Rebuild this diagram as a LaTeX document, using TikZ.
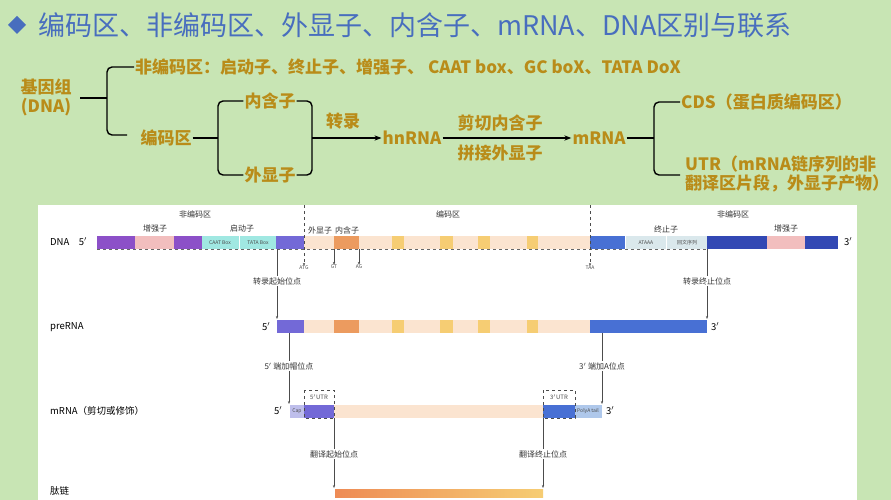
\documentclass[tikz,border=0pt]{standalone}
\usepackage{fontspec}
\setmainfont{Noto Sans CJK SC}
\usetikzlibrary{arrows.meta, positioning}
\definecolor{bggreen}{RGB}{200,229,180}
\definecolor{ttlblue}{RGB}{72,110,190}
\definecolor{gold}{RGB}{185,140,25}
\definecolor{cpurple}{RGB}{140,80,200}
\definecolor{cpink}{RGB}{242,190,190}
\definecolor{ccyan}{RGB}{160,232,226}
\definecolor{cviolet}{RGB}{115,105,215}
\definecolor{cpeach}{RGB}{251,228,208}
\definecolor{corange}{RGB}{236,155,95}
\definecolor{cyellow}{RGB}{246,205,115}
\definecolor{cblue}{RGB}{72,112,212}
\definecolor{cgrey}{RGB}{218,232,236}
\definecolor{cdark}{RGB}{50,72,180}
\definecolor{clav}{RGB}{190,190,235}
\definecolor{clblue}{RGB}{175,200,235}
\tikzset{
  gtext/.style={text=gold, font=\bfseries\fontsize{17}{19}\selectfont, inner sep=1pt},
  brc/.style={line width=1.4pt, rounded corners=5pt},
  garrow/.style={line width=1.4pt, -{Stealth[length=7pt]}},
  lbl/.style={font=\fontsize{8}{9}\selectfont, text=black!80, inner sep=1pt},
  rowlbl/.style={font=\fontsize{9.5}{11}\selectfont, anchor=west, inner sep=0pt},
  tiny/.style={font=\fontsize{5}{6}\selectfont, text=black!70, inner sep=0pt},
  pin/.style={black!70, line width=0.5pt, -{Stealth[length=3pt]}},
  seg/.style={draw=none}
}
\newcommand\codingpart[2]{%
  \foreach \xa/\xb/\cc in {304/334/cpeach,334/359/corange,359/392/cpeach,392/404/cyellow,
    404/440/cpeach,440/453/cyellow,453/478/cpeach,478/490/cyellow,490/527/cpeach,
    527/538/cyellow,538/590/cpeach}
    \fill[\cc] (\xa,#1) rectangle (\xb,#2);}
\begin{document}
\begin{tikzpicture}[x=1pt,y=-1pt]
\useasboundingbox (0,0) rectangle (891,500);
\fill[bggreen] (0,0) rectangle (891,500);
\fill[white] (38,205) rectangle (857,500);

% title
\fill[ttlblue] (17,16) -- (26,25) -- (17,34) -- (8,25) -- cycle;
\node[anchor=west, text=ttlblue, font=\fontsize{27}{30}\selectfont, inner sep=0pt] (title) at (38,25)
  {编码区、非编码区、外显子、内含子、mRNA、DNA区别与联系};

% overview
\node[gtext, align=center] (genome) at (46,97) {基因组\\(DNA)};
\node[gtext, anchor=west] (noncode) at (134,67) {非编码区：启动子、终止子、增强子、 CAAT box、GC boX、TATA DoX};
\node[gtext] (code) at (166,138) {编码区};
\node[gtext] (intron) at (270,101) {内含子};
\node[gtext] (exon) at (270,175) {外显子};
\node[gtext] (trans) at (343,121) {转录};
\node[gtext] (hn) at (412,138) {hnRNA};
\node[gtext] (cut) at (500,123) {剪切内含子};
\node[gtext] (join) at (500,153) {拼接外显子};
\node[gtext] (mr) at (599,138) {mRNA};
\node[gtext, anchor=west] (cds) at (680,102) {CDS（蛋白质编码区）};
\node[gtext, anchor=west, align=left] (utr) at (684,174) {UTR（mRNA链序列的非\\翻译区片段，外显子产物）};
\coordinate (gend) at (80,98);

\draw[brc] (gend) -- (107,98);
\draw[brc] (noncode.west) -| (107,98) |- (127,135);
\draw[brc] (code.east) -- (218,138);
\draw[brc] (intron.west) -| (218,138) |- (exon.west);
\draw[brc] (intron.east) -| (312,138) |- (exon.east);
\draw[garrow] (312,138) -- (hn.west);
\draw[garrow] (hn.east) -- (mr.west);
\draw[brc] (mr.east) -- (654,138);
\draw[brc] (cds.west) -| (654,138) |- (680,175);

% lower panel: region labels
\node[lbl] (nc1) at (195,214) {非编码区};
\node[lbl] (cr) at (448,214) {编码区};
\node[lbl] (nc2) at (733,214) {非编码区};

% DNA row
\node[rowlbl] (dnal) at (50,242) {DNA\quad 5$'$};
\node[rowlbl] (dnar) at (844,242) {3$'$};
\foreach \xa/\xb/\cc in {97/135/cpurple,135/174/cpink,174/202/cpurple,202/239/ccyan,
  240/276/ccyan,276/304/cviolet,590/625/cblue,626/666/cgrey,667/707/cgrey,
  707/767/cdark,767/805/cpink,805/838/cdark}
  \fill[\cc] (\xa,236) rectangle (\xb,249);
\codingpart{236}{249}
\draw[dashed, black!60, line width=0.4pt] (97,249) -- (707,249);
\node[tiny] (caat) at (220,242.5) {CAAT Box};
\node[tiny] (tata) at (258,242.5) {TATA Box};
\node[tiny] (ataaa) at (646,242.5) {ATAAA};
\node[tiny] (palin) at (687,242.5) {回文序列};
\node[lbl] (enh1) at (155,228) {增强子};
\node[lbl] (prom) at (242,228) {启动子};
\node[lbl] (ex1) at (320,230) {外显子};
\node[lbl] (in1) at (347,230) {内含子};
\node[lbl] (term) at (666,229) {终止子};
\node[lbl] (enh2) at (786,228) {增强子};

\node[tiny] (atg) at (304,268) {ATG};
\node[tiny] (gt) at (334,267) {GT};
\node[tiny] (ag) at (359,267) {AG};
\node[tiny] (taa) at (590,268) {TAA};
\coordinate (atgtop) at (304,205);
\coordinate (taatop) at (590,205);
\draw[pin, dashed] (atgtop) -- (atg.north);
\draw[pin, dashed] (taatop) -- (taa.north);
\draw[pin] (334,249) -- (gt.north);
\draw[pin] (359,249) -- (ag.north);

% preRNA row
\node[rowlbl] (prel) at (50,327) {preRNA};
\node[rowlbl] (pre5) at (262,327) {5$'$};
\node[rowlbl] (pre3) at (711,327) {3$'$};
\fill[cviolet] (277,320) rectangle (304,333);
\codingpart{320}{333}
\fill[cblue] (590,320) rectangle (707,333);
\node[lbl, fill=white] (tss) at (277,281) {转录起始位点};
\node[lbl, fill=white] (tts) at (707,281) {转录终止位点};
\coordinate (tssa) at (277,249);
\coordinate (tssb) at (277,319);
\coordinate (ttsa) at (707,249);
\coordinate (ttsb) at (707,319);
\draw[pin, -] (tssa) -- (tss.north);
\draw[pin] (tss.south) -- (tssb);
\draw[pin, -] (ttsa) -- (tts.north);
\draw[pin] (tts.south) -- (ttsb);

% mRNA row
\node[rowlbl] (mrl) at (50,411) {mRNA（剪切或修饰）};
\node[rowlbl] (mr5) at (274,411) {5$'$};
\node[rowlbl] (mr3) at (606,411) {3$'$};
\fill[clav] (290,405) rectangle (304,418);
\fill[cviolet] (304,405) rectangle (334,418);
\fill[cpeach] (334,405) rectangle (543,418);
\fill[cblue] (543,405) rectangle (575,418);
\fill[clblue] (575,405) rectangle (602,418);
\node[tiny] (cap) at (297,411.5) {Cap};
\node[tiny] (polya) at (588,411.5) {PolyA tail};
\draw[dashed, black!70, line width=0.5pt] (304,390) rectangle (334,418);
\draw[dashed, black!70, line width=0.5pt] (543,390) rectangle (575,418);
\node[tiny, font=\fontsize{6}{7}\selectfont] (u5) at (319,397) {5$'$UTR};
\node[tiny, font=\fontsize{6}{7}\selectfont] (u3) at (559,397) {3$'$UTR};
\node[lbl, fill=white] (capsite) at (289,366) {5$'$ 端加帽位点};
\node[lbl, fill=white] (polysite) at (602,366) {3$'$ 端加A位点};
\coordinate (capa) at (289,333);
\coordinate (capb) at (289,404);
\coordinate (pola) at (602,333);
\coordinate (polb) at (602,404);
\draw[pin, -] (capa) -- (capsite.north);
\draw[pin] (capsite.south) -- (capb);
\draw[pin, -] (pola) -- (polysite.north);
\draw[pin] (polysite.south) -- (polb);

% peptide row
\node[rowlbl] (pepl) at (50,491) {肽链};
\shade[left color=corange!90!red, right color=cyellow] (335,489) rectangle (543,497);
\node[lbl, fill=white] (tlstart) at (334,454) {翻译起始位点};
\node[lbl, fill=white] (tlend) at (543,454) {翻译终止位点};
\coordinate (tlsa) at (334,418);
\coordinate (tlsb) at (334,488);
\coordinate (tlea) at (543,418);
\coordinate (tleb) at (543,488);
\draw[pin, -] (tlsa) -- (tlstart.north);
\draw[pin] (tlstart.south) -- (tlsb);
\draw[pin, -] (tlea) -- (tlend.north);
\draw[pin] (tlend.south) -- (tleb);
\end{tikzpicture}
\end{document}
